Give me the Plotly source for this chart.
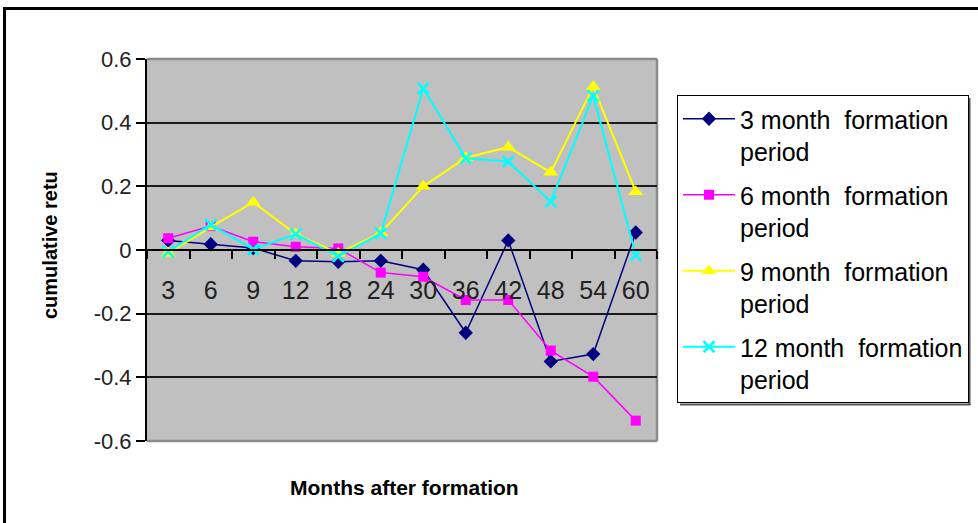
import plotly.graph_objects as go

months = ["3", "6", "9", "12", "18", "24", "30", "36", "42", "48", "54", "60"]
m3 = [0.03, 0.018, 0.006, -0.034, -0.037, -0.034, -0.062, -0.26, 0.03, -0.35, -0.327, 0.055]
m6 = [0.037, 0.075, 0.026, 0.01, 0.005, -0.071, -0.084, -0.157, -0.157, -0.316, -0.398, -0.536]
m9 = [-0.01, 0.072, 0.15, 0.05, -0.01, 0.054, 0.2, 0.29, 0.323, 0.244, 0.513, 0.183]
m12 = [-0.005, 0.08, 0.002, 0.05, -0.02, 0.052, 0.508, 0.288, 0.278, 0.152, 0.484, -0.016]
names = ["3 month  formation<br>period", "6 month  formation<br>period",
         "9 month  formation<br>period", "12 month  formation<br>period"]
y_ticks = [-0.6, -0.4, -0.2, 0, 0.2, 0.4, 0.6]
y_tick_text = ["-0.6", "-0.4", "-0.2", "0", "0.2", "0.4", "0.6"]

FONT = "Liberation Sans, Arial, sans-serif"
W, H = 978, 523
L, R, T, B = 147, 321, 59, 82
pw, ph = W - L - R, H - T - B

def px_x(x):
    return (x - L) / pw

def px_y(y):
    return (H - B - y) / ph

fig = go.Figure()
styles = [
    dict(color="#000080", symbol="diamond", size=11, lw=1.5),
    dict(color="#FF00FF", symbol="square", size=10, lw=1.5),
    dict(color="#FFFF00", symbol="triangle-up", size=13, lw=2),
    dict(color="#00FFFF", symbol="x-thin", size=11, lw=2),
]
for i, (vals, nm, st) in enumerate(zip([m3, m6, m9, m12], names, styles)):
    marker = dict(symbol=st["symbol"], size=st["size"], color=st["color"])
    if st["symbol"] == "x-thin":
        marker["line"] = dict(color=st["color"], width=2.5)
    fig.add_trace(go.Scatter(
        x=months, y=vals, name=nm, mode="lines+markers",
        line=dict(color=st["color"], width=st["lw"]),
        marker=marker, legendgroup=f"g{i}",
    ))

fig.update_layout(
    width=W, height=H,
    margin=dict(l=L, r=R, t=T, b=B, autoexpand=False),
    paper_bgcolor="white",
    plot_bgcolor="#C0C0C0",
    font=dict(family=FONT, color="black"),
    showlegend=True,
    legend=dict(
        x=px_x(677), y=px_y(95), xanchor="left", yanchor="top",
        bgcolor="white", bordercolor="black", borderwidth=1,
        font=dict(size=25, family=FONT, color="black"),
        itemwidth=52, tracegroupgap=8, valign="top",
    ),
    xaxis=dict(
        type="category", categoryorder="array", categoryarray=months,
        range=[-0.5, 11.5], anchor="free", position=0.5,
        showline=True, linecolor="black", linewidth=2,
        ticks="outside", tickson="boundaries", ticklen=8, tickwidth=1.5, tickcolor="black",
        tickfont=dict(size=25, family=FONT, color="#222"),
        ticklabelstandoff=18,
        showgrid=False, zeroline=False, fixedrange=True,
    ),
    yaxis=dict(
        range=[-0.6, 0.6], tickvals=y_ticks, ticktext=y_tick_text,
        showline=True, linecolor="black", linewidth=2,
        ticks="outside", ticklen=9, tickwidth=1.5, tickcolor="black",
        tickfont=dict(size=22, family=FONT, color="#222"),
        showgrid=True, gridcolor="#1a1a1a", gridwidth=2,
        zeroline=False, fixedrange=True,
    ),
)

# plot area border (top, right, bottom) in gray
for (x0, y0, x1, y1) in [(0, 1, 1, 1), (1, 0, 1, 1), (0, 0, 1, 0)]:
    fig.add_shape(type="line", xref="paper", yref="paper", x0=x0, y0=y0, x1=x1, y1=y1,
                  line=dict(color="#8a8a8a", width=2.5), layer="below")

# outer chart frame
fig.add_shape(type="rect", xref="paper", yref="paper",
              x0=px_x(4.5), y0=px_y(8.5), x1=px_x(990), y1=px_y(540),
              line=dict(color="black", width=3), fillcolor="rgba(0,0,0,0)")

# legend shadow (right and bottom edges)
fig.add_shape(type="line", xref="paper", yref="paper",
              x0=px_x(969.5), y0=px_y(98), x1=px_x(969.5), y1=px_y(405),
              line=dict(color="#555", width=2))
fig.add_shape(type="line", xref="paper", yref="paper",
              x0=px_x(680), y0=px_y(404.5), x1=px_x(970.5), y1=px_y(404.5),
              line=dict(color="#555", width=2))

fig.add_annotation(text="<b>Months after formation</b>", xref="paper", yref="paper",
                   x=px_x(404), y=px_y(487), xanchor="center", yanchor="middle", showarrow=False,
                   font=dict(size=21, family=FONT, color="black"))
fig.add_annotation(text="<b>cumulative retu</b>", xref="paper", yref="paper",
                   x=px_x(50), y=px_y(245), xanchor="center", yanchor="middle",
                   showarrow=False, textangle=-90,
                   font=dict(size=20, family=FONT, color="black"))

fig.write_html("out.html", config={"displayModeBar": False},
               post_script="document.body.style.margin='0px';document.body.style.overflow='hidden';")
